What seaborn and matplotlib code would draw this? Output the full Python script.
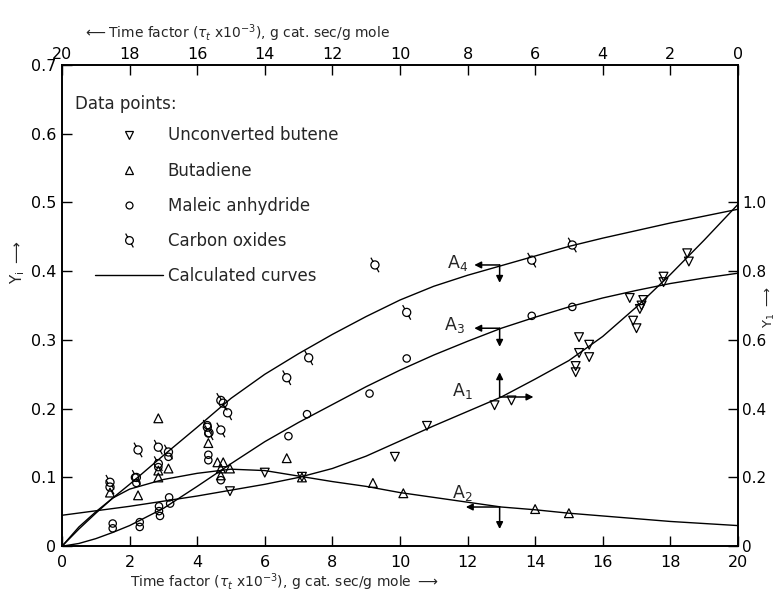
import matplotlib
matplotlib.use("Agg")
import matplotlib.pyplot as plt
import seaborn as sns
from matplotlib.path import Path
from matplotlib.lines import Line2D

# Data.
# Bottom axis: time factor (x 1e-3), left axis: Y_i
curve_t = [0, 0.5, 1, 1.5, 2, 3, 4, 5, 6, 7, 8, 9, 10, 11, 12, 13, 14, 15, 16, 17, 18, 19, 20]
a2_curve = [0, 0.028, 0.05, 0.07, 0.083, 0.097, 0.106, 0.112, 0.11, 0.102, 0.094, 0.087, 0.078,
            0.071, 0.064, 0.057, 0.053, 0.048, 0.044, 0.04, 0.036, 0.033, 0.03]
a3_curve = [0, 0.004, 0.011, 0.02, 0.03, 0.055, 0.087, 0.12, 0.152, 0.18, 0.206, 0.232, 0.256,
            0.278, 0.298, 0.317, 0.333, 0.348, 0.361, 0.372, 0.382, 0.39, 0.397]
a4_curve = [0, 0.025, 0.048, 0.07, 0.09, 0.132, 0.173, 0.215, 0.25, 0.28, 0.308, 0.334, 0.358,
            0.378, 0.394, 0.408, 0.422, 0.436, 0.448, 0.459, 0.47, 0.48, 0.49]

# Top axis (reversed time factor), right axis: Y_1 for butene
a1_tau = [20, 18, 16, 14, 13, 12, 11, 10, 9, 8, 7, 6, 5, 4, 3, 2, 1, 0]
a1_curve = [0.09, 0.116, 0.146, 0.18, 0.2, 0.226, 0.262, 0.306, 0.35, 0.392, 0.434, 0.486,
            0.54, 0.61, 0.696, 0.79, 0.89, 0.994]

butene_tau = [15.03, 14.0, 12.9, 10.15, 9.2, 7.2, 6.7, 4.8, 4.8, 4.7, 4.7, 4.4, 4.4, 3.2, 3.1,
              3.0, 2.8, 2.9, 2.85, 2.2, 2.2, 1.5, 1.45]
butene_y = [0.16, 0.214, 0.202, 0.26, 0.35, 0.41, 0.424, 0.506, 0.524, 0.562, 0.608, 0.55, 0.586,
            0.722, 0.656, 0.634, 0.716, 0.69, 0.70, 0.784, 0.768, 0.852, 0.828]

butadiene_t = [1.42, 2.25, 2.85, 2.85, 2.85, 3.15, 4.33, 4.6, 4.77, 4.7, 4.97, 4.7, 6.65, 7.1,
               9.2, 10.1, 14.0, 15.0]
butadiene_y = [0.078, 0.074, 0.186, 0.11, 0.1, 0.113, 0.15, 0.122, 0.122, 0.113, 0.113, 0.103,
               0.128, 0.10, 0.092, 0.077, 0.054, 0.048]

maleic_t = [1.5, 1.5, 2.3, 2.3, 2.87, 2.87, 2.9, 3.17, 3.2, 2.16, 2.2, 2.85, 3.15, 4.3, 4.33,
            4.33, 4.33, 4.7, 6.7, 7.25, 9.1, 10.2, 13.9, 15.1]
maleic_y = [0.033, 0.026, 0.035, 0.028, 0.058, 0.051, 0.044, 0.071, 0.062, 0.1, 0.092, 0.115,
            0.13, 0.176, 0.164, 0.133, 0.125, 0.096, 0.16, 0.192, 0.222, 0.273, 0.335, 0.348]

co_t = [1.42, 1.42, 2.25, 2.2, 2.85, 2.85, 3.15, 4.3, 4.35, 4.7, 4.77, 4.9, 4.7, 6.65, 7.3,
        9.26, 10.2, 13.9, 15.1]
co_y = [0.093, 0.086, 0.14, 0.1, 0.144, 0.12, 0.137, 0.173, 0.165, 0.212, 0.208, 0.194, 0.169,
        0.245, 0.274, 0.409, 0.34, 0.416, 0.438]

bottom_ticks = list(range(0, 21, 2))
left_ticks = [0, 0.1, 0.2, 0.3, 0.4, 0.5, 0.6, 0.7]
left_labels = ["0", "0.1", "0.2", "0.3", "0.4", "0.5", "0.6", "0.7"]
right_ticks = [0, 0.2, 0.4, 0.6, 0.8, 1.0]
right_labels = ["0", "0.2", "0.4", "0.6", "0.8", "1.0"]

# curve labels: name, label pos, arrow origin, arrow ends
curve_notes = [
    ("A$_4$", (11.7, 0.412), (12.95, 0.409), [(12.2, 0.409), (12.95, 0.383)]),
    ("A$_3$", (11.6, 0.322), (12.95, 0.317), [(12.2, 0.317), (12.95, 0.29)]),
    ("A$_1$", (11.85, 0.226), (12.95, 0.217), [(12.95, 0.253), (13.95, 0.217)]),
    ("A$_2$", (11.85, 0.078), (12.95, 0.057), [(11.95, 0.057), (12.95, 0.025)]),
]

sns.set_theme(style="ticks")
plt.rcParams["font.family"] = ["DejaVu Sans"]
plt.rcParams["font.size"] = 11

fig = plt.figure(figsize=(7.8, 5.95), dpi=100)
ax = fig.add_subplot(111)
axb = fig.add_subplot(111, label="butene", frame_on=False)
fig.subplots_adjust(left=0.0795, right=0.946, bottom=0.082, top=0.891)

# carbon oxides marker: circle with a stem
co_marker = Path.make_compound_path(
    Path.unit_circle(),
    Path([[-0.5, 0.9], [-1.0, 1.8], [0.5, -0.9], [1.0, -1.8]],
         [Path.MOVETO, Path.LINETO, Path.MOVETO, Path.LINETO]))

line_kw = dict(color="black", linewidth=1.0, sort=False, estimator=None, legend=False)
sns.lineplot(x=curve_t, y=a2_curve, ax=ax, **line_kw)
sns.lineplot(x=curve_t, y=a3_curve, ax=ax, **line_kw)
sns.lineplot(x=curve_t, y=a4_curve, ax=ax, **line_kw)
sns.lineplot(x=a1_tau, y=a1_curve, ax=axb, **line_kw)

pt_kw = dict(color="black", facecolor="none", edgecolor="black", linewidth=0.9, legend=False,
             zorder=3)
sns.scatterplot(x=butadiene_t, y=butadiene_y, marker="^", s=40, ax=ax, **pt_kw)
sns.scatterplot(x=maleic_t, y=maleic_y, marker="o", s=28, ax=ax, **pt_kw)
sns.scatterplot(x=co_t, y=co_y, marker=co_marker, s=110, ax=ax, **pt_kw)
sns.scatterplot(x=butene_tau, y=butene_y, marker="v", s=40, ax=axb, **pt_kw)

# main axes: bottom / left
ax.set_xlim(0, 20)
ax.set_ylim(0, 0.7)
ax.set_xticks(bottom_ticks)
ax.set_yticks(left_ticks)
ax.set_yticklabels(left_labels)
ax.tick_params(direction="in", length=7, width=1, labelsize=11.5, pad=4,
               top=False, right=False, colors="black")
ax.tick_params(axis="x", pad=6)
for sp in ax.spines.values():
    sp.set_linewidth(1.4)
    sp.set_color("black")
    sp.set_visible(True)

# butene axes: top / right
axb.set_xlim(20, 0)
axb.set_ylim(0, 1.4)
axb.set_xticks(bottom_ticks)
axb.set_yticks(right_ticks)
axb.set_yticklabels(right_labels)
axb.xaxis.tick_top()
axb.yaxis.tick_right()
axb.tick_params(direction="in", length=7, width=1, labelsize=11.5, pad=4, colors="black")
axb.tick_params(axis="x", pad=2)
axb.tick_params(axis="y", labelsize=11, pad=3)
axb.set_xlabel("")
axb.set_ylabel("")
ax.set_xlabel("")
ax.set_ylabel("")

fig.text(0.365, 0.021, r"Time factor ($\tau_t$ x10$^{-3}$), g cat. sec/g mole $\longrightarrow$",
         ha="center", va="center", fontsize=10)
fig.text(0.303, 0.945, r"$\longleftarrow$Time factor ($\tau_t$ x10$^{-3}$), g cat. sec/g mole",
         ha="center", va="center", fontsize=10)
fig.text(0.022, 0.56, r"Y$_{\rm i}$ $\longrightarrow$", rotation=90, ha="center", va="center",
         fontsize=11)
fig.text(0.987, 0.484, r"Y$_{\rm 1}$ $\longrightarrow$", rotation=90, ha="center", va="center",
         fontsize=9.5)

for name, lab_pos, origin, ends in curve_notes:
    ax.text(lab_pos[0], lab_pos[1], name, ha="center", va="center", fontsize=12.5)
    for end in ends:
        ax.annotate("", xy=end, xytext=origin,
                    arrowprops=dict(arrowstyle="-|>", color="black", lw=1.1,
                                    mutation_scale=10, shrinkA=0, shrinkB=0))

handles = [
    Line2D([], [], marker="v", linestyle="none", markersize=6, markerfacecolor="none",
           markeredgecolor="black", markeredgewidth=0.9),
    Line2D([], [], marker="^", linestyle="none", markersize=6, markerfacecolor="none",
           markeredgecolor="black", markeredgewidth=0.9),
    Line2D([], [], marker="o", linestyle="none", markersize=5, markerfacecolor="none",
           markeredgecolor="black", markeredgewidth=0.9),
    Line2D([], [], marker=co_marker, linestyle="none", markersize=10, markerfacecolor="none",
           markeredgecolor="black", markeredgewidth=0.9),
    Line2D([], [], color="black", linewidth=1.0),
]
labels = ["Unconverted butene", "Butadiene", "Maleic anhydride", "Carbon oxides",
          "Calculated curves"]
ax.text(0.019, 0.919, "Data points:", transform=ax.transAxes, ha="left", va="center",
        fontsize=12)
leg = ax.legend(handles, labels, loc="upper left", bbox_to_anchor=(0.049, 0.872),
                frameon=False, fontsize=12, handlelength=4.1, handletextpad=0.25,
                labelspacing=1.03, borderpad=0, borderaxespad=0)
leg.set_zorder(5)

fig.savefig("out.png", dpi=100)
